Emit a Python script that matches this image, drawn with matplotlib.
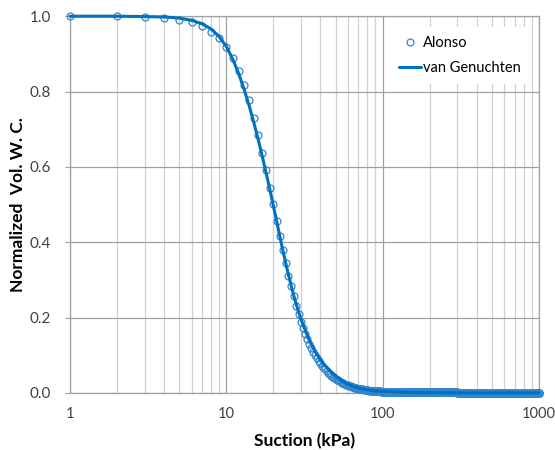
import matplotlib.pyplot as plt
import numpy as np

plt.rcParams['font.family'] = ['Lato', 'DejaVu Sans']

# Alonso: one point per kPa from 1 to 1000
suction = np.arange(1, 1001)
alonso_head = [
    1.000, 1.000, 0.998, 0.996, 0.991, 0.985, 0.975, 0.959, 0.942, 0.919,
    0.888, 0.855, 0.817, 0.777, 0.731, 0.685, 0.638, 0.591, 0.545, 0.501,
    0.456, 0.417, 0.379, 0.344, 0.311, 0.284, 0.256, 0.231, 0.209, 0.189,
    0.172, 0.156, 0.142, 0.130, 0.119, 0.109, 0.100, 0.092, 0.085, 0.078,
    0.072, 0.067, 0.062, 0.057, 0.053, 0.049, 0.046, 0.043, 0.040, 0.037,
    0.035, 0.033, 0.031, 0.029, 0.027, 0.025, 0.024, 0.022, 0.021, 0.020,
    0.019, 0.018, 0.017, 0.016, 0.015, 0.014, 0.013, 0.013, 0.012, 0.011,
    0.011, 0.010, 0.010, 0.009, 0.009, 0.008, 0.008, 0.008, 0.007, 0.007,
    0.007, 0.006, 0.006, 0.006, 0.006, 0.005, 0.005, 0.005, 0.005, 0.005,
    0.004, 0.004, 0.004, 0.004, 0.004, 0.004, 0.004, 0.003, 0.003, 0.003,
]
alonso_tail = [0.002] * 50 + [0.001] * 150 + [0.000] * 700
alonso = alonso_head + alonso_tail

# van Genuchten fit
vg_suction = list(range(1, 51)) + [55, 60, 65, 70, 80, 90, 100, 150, 200, 300, 500, 1000]
vg = [
    1.000, 1.000, 0.999, 0.998, 0.995, 0.989, 0.980, 0.966, 0.946, 0.920,
    0.886, 0.848, 0.806, 0.763, 0.718, 0.673, 0.628, 0.583, 0.540, 0.497,
    0.456, 0.416, 0.379, 0.345, 0.313, 0.285, 0.259, 0.236, 0.215, 0.197,
    0.181, 0.166, 0.152, 0.140, 0.129, 0.119, 0.110, 0.102, 0.095, 0.088,
    0.082, 0.077, 0.072, 0.067, 0.063, 0.059, 0.055, 0.052, 0.049, 0.046,
    0.032, 0.023, 0.017, 0.013, 0.008, 0.005, 0.004, 0.001, 0.0005, 0.0,
    0.0, 0.0,
]

fig = plt.figure(figsize=(5.55, 4.5), dpi=100)
ax = fig.add_axes([0.126, 0.127, 0.845, 0.837])

ax.plot(suction, alonso, 'o', ms=5, mfc='none', mec='#3385cc', mew=0.9,
        label='Alonso', zorder=3, clip_on=False)
ax.plot(vg_suction, vg, '-', color='#0070c0', lw=2.2, label='van Genuchten',
        zorder=4, clip_on=False, solid_capstyle='round')

ax.set_xscale('log')
ax.set_xlim(1, 1000)
ax.set_ylim(0, 1.0)
ax.set_yticks(np.arange(0, 1.01, 0.2))
ax.set_yticklabels(['0.0', '0.2', '0.4', '0.6', '0.8', '1.0'])
ax.set_xticks([1, 10, 100, 1000])
ax.set_xticklabels(['1', '10', '100', '1000'])

ax.grid(True, which='major', color='#a0a0a0', lw=0.9)
ax.grid(True, which='minor', axis='x', color='#d0d0d0', lw=0.9)
ax.set_axisbelow(True)
for s in ax.spines.values():
    s.set_color('#a0a0a0')
    s.set_linewidth(0.9)
ax.tick_params(axis='y', which='major', length=3.5, color='#a0a0a0',
               labelsize=11, labelcolor='#404040', pad=10)
ax.tick_params(axis='x', which='both', length=0, labelsize=10.5,
               labelcolor='#404040', pad=10)

ax.set_xlabel('Suction (kPa)', fontsize=12.5, fontweight='bold', labelpad=9)
ax.set_ylabel('Normalized  Vol. W. C.', fontsize=12.5, fontweight='bold',
              labelpad=3)

leg = ax.legend(loc='upper right', bbox_to_anchor=(0.995, 0.99), frameon=True,
                fontsize=10.5, handlelength=1.45, handletextpad=0.15,
                labelspacing=0.75, borderpad=0.6)
leg.get_frame().set_edgecolor('none')
leg.get_frame().set_facecolor('white')
leg.get_frame().set_alpha(1)

fig.savefig('out.png', dpi=100)
